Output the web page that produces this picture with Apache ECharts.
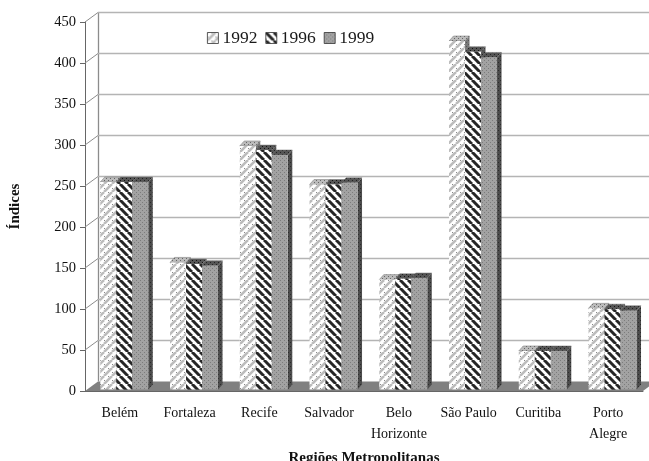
<!DOCTYPE html>
<html><head><meta charset="utf-8">
<style>html,body{margin:0;padding:0;background:#fff}#c{width:649px;height:461px}</style>
<script src="https://cdn.jsdelivr.net/npm/echarts@6/dist/echarts.min.js"></script>
</head><body><div id="c"></div>
<script>
const categories = ['Belém','Fortaleza','Recife','Salvador','Belo\nHorizonte','São Paulo','Curitiba','Porto\nAlegre'];
const years = ['1992','1996','1999'];
const values1992 = [253,155,297,250,134,425,47,99];
const values1996 = [253,153,292,250,135,412,47,98];
const values1999 = [253,151,286,252,136,405,47,96];
const yTicks = [0,50,100,150,200,250,300,350,400,450];

const font = '"Liberation Serif","Times New Roman",serif';
const wallDx = 13, wallDy = -9.5;
const barW = 16, barDepthX = 4.5, barDepthY = -5, barShiftX = -19.6, barShiftY = -1.5;

function tile(w, h, bg, draw) {
  const c = document.createElement('canvas'); c.width = w; c.height = h;
  const g = c.getContext('2d'); g.fillStyle = bg; g.fillRect(0,0,w,h); draw(g);
  return {image: c, repeat: 'repeat'};
}
function stripes(size, color, lw, dir) {
  return g => {
    g.strokeStyle = color; g.lineWidth = lw;
    for (let k = -size; k <= size * 2; k += size) {
      g.beginPath();
      if (dir > 0) { g.moveTo(k, size); g.lineTo(k + size, 0); }
      else { g.moveTo(k, 0); g.lineTo(k + size, size); }
      g.stroke();
    }
  };
}
function dots(color) {
  return g => { g.fillStyle = color; g.fillRect(0,0,1,1); g.fillRect(2,2,1,1); };
}
const frontFace = [
  tile(8,8,'#fff', g => { stripes(8,'#bcbcbc',2.6,1)(g); g.fillStyle='#8a8a8a'; g.fillRect(0,4,1,1); g.fillRect(4,0,1,1); }),
  tile(8,8,'#fff', stripes(8,'#262626',3,-1)),
  tile(4,4,'#a2a2a2', dots('#7c7c7c'))
];
const sideFace = [
  tile(4,4,'#777', dots('#555')),
  tile(4,4,'#555', dots('#222')),
  tile(4,4,'#4c4c4c', dots('#2a2a2a'))
];
const topFace = [
  tile(4,4,'#bbb', dots('#666')),
  tile(4,4,'#555', dots('#111')),
  tile(4,4,'#555', dots('#222'))
];

function barItem(seriesIdx) {
  return function (params, api) {
    const p = api.coord([api.value(0), api.value(1)]);
    const base = api.coord([api.value(0), 0]);
    const x0 = p[0] + barShiftX + seriesIdx * barW, x1 = x0 + barW;
    const yT = p[1] + barShiftY, yB = base[1] + barShiftY;
    const dx = barDepthX, dy = barDepthY;
    return {type:'group', children:[
      {type:'polygon', shape:{points:[[x1,yB],[x1+dx,yB+dy],[x1+dx,yT+dy],[x1,yT]]}, style:{fill:sideFace[seriesIdx]}},
      {type:'polygon', shape:{points:[[x0,yT],[x1,yT],[x1+dx,yT+dy],[x0+dx,yT+dy]]}, style:{fill:topFace[seriesIdx], stroke:'#777', lineWidth:0.5}},
      {type:'rect', shape:{x:x0,y:yT,width:barW,height:yB-yT}, style:{fill:frontFace[seriesIdx]}}
    ]};
  };
}
function wallItem(params, api) {
  const v = api.value(1);
  const a = api.coord([0, v]);
  const left = params.coordSys.x;
  const right = left + params.coordSys.width;
  const y = a[1];
  const kids = [];
  if (v === 0) {
    kids.push({type:'polygon', shape:{points:[[left,y],[left+wallDx,y+wallDy],[right+wallDx,y+wallDy],[right,y]]}, style:{fill:'#808080'}});
    kids.push({type:'line', shape:{x1:left+wallDx+0.5,y1:y+wallDy,x2:left+wallDx+0.5,y2:params.coordSys.y+wallDy}, style:{stroke:'#8c8c8c',lineWidth:1.3}});
  } else {
    kids.push({type:'line', shape:{x1:left+wallDx,y1:y+wallDy,x2:right+wallDx,y2:y+wallDy}, style:{stroke:'#b4b4b4',lineWidth:1.6}});
    kids.push({type:'line', shape:{x1:left,y1:y,x2:left+wallDx,y2:y+wallDy}, style:{stroke:'#8c8c8c',lineWidth:1}});
  }
  return {type:'group', children:kids};
}
const yearValues = [values1992, values1996, values1999];
const option = {
  animation:false,
  backgroundColor:'#fff',
  grid:{left:85, top:22, width:558, height:369, outerBoundsMode:'none'},
  legend:{
    left:202, top:24, itemWidth:11, itemHeight:11, itemGap:8, icon:'rect',
    data:years, selectedMode:false,
    textStyle:{fontFamily:font, fontSize:17.5, color:'#1a1a1a', padding:[0,0,0,-1]},
    itemStyle:{borderColor:'#333', borderWidth:0.8}
  },
  xAxis:{
    type:'category', data:categories, boundaryGap:true,
    axisLine:{lineStyle:{color:'#666',width:1}},
    axisTick:{length:5, lineStyle:{color:'#666'}},
    axisLabel:{fontFamily:font, fontSize:14, color:'#111', margin:12, lineHeight:21, interval:0},
    name:'Regiões Metropolitanas', nameLocation:'middle', nameGap:60,
    nameTextStyle:{fontFamily:font, fontSize:15, fontWeight:'bold', color:'#111'}
  },
  yAxis:{
    type:'value', min:0, max:450, interval:50,
    axisLine:{show:true, lineStyle:{color:'#666',width:1}},
    axisTick:{show:true, length:5, lineStyle:{color:'#666'}},
    splitLine:{show:false},
    axisLabel:{fontFamily:font, fontSize:14.5, color:'#111', margin:9},
    name:'Índices', nameLocation:'middle', nameGap:62, nameRotate:90,
    nameTextStyle:{fontFamily:font, fontSize:15, fontWeight:'bold', color:'#111'}
  },
  series:[
    {type:'custom', name:'wall', silent:true, z:1, coordinateSystem:'cartesian2d', clip:false,
     encode:{x:0,y:1}, data:yTicks.map(v=>[0,v]), renderItem:wallItem},
    ...years.map((y,i)=>({
      type:'custom', name:y, z:2+i, coordinateSystem:'cartesian2d', clip:false,
      itemStyle:{color:frontFace[i]}, encode:{x:0,y:1},
      data:yearValues[i].map((v,k)=>[k,v]), renderItem:barItem(i)
    }))
  ]
};
const chart = echarts.init(document.getElementById('c'), null, {renderer:'canvas'});
chart.setOption(option);
</script></body></html>
